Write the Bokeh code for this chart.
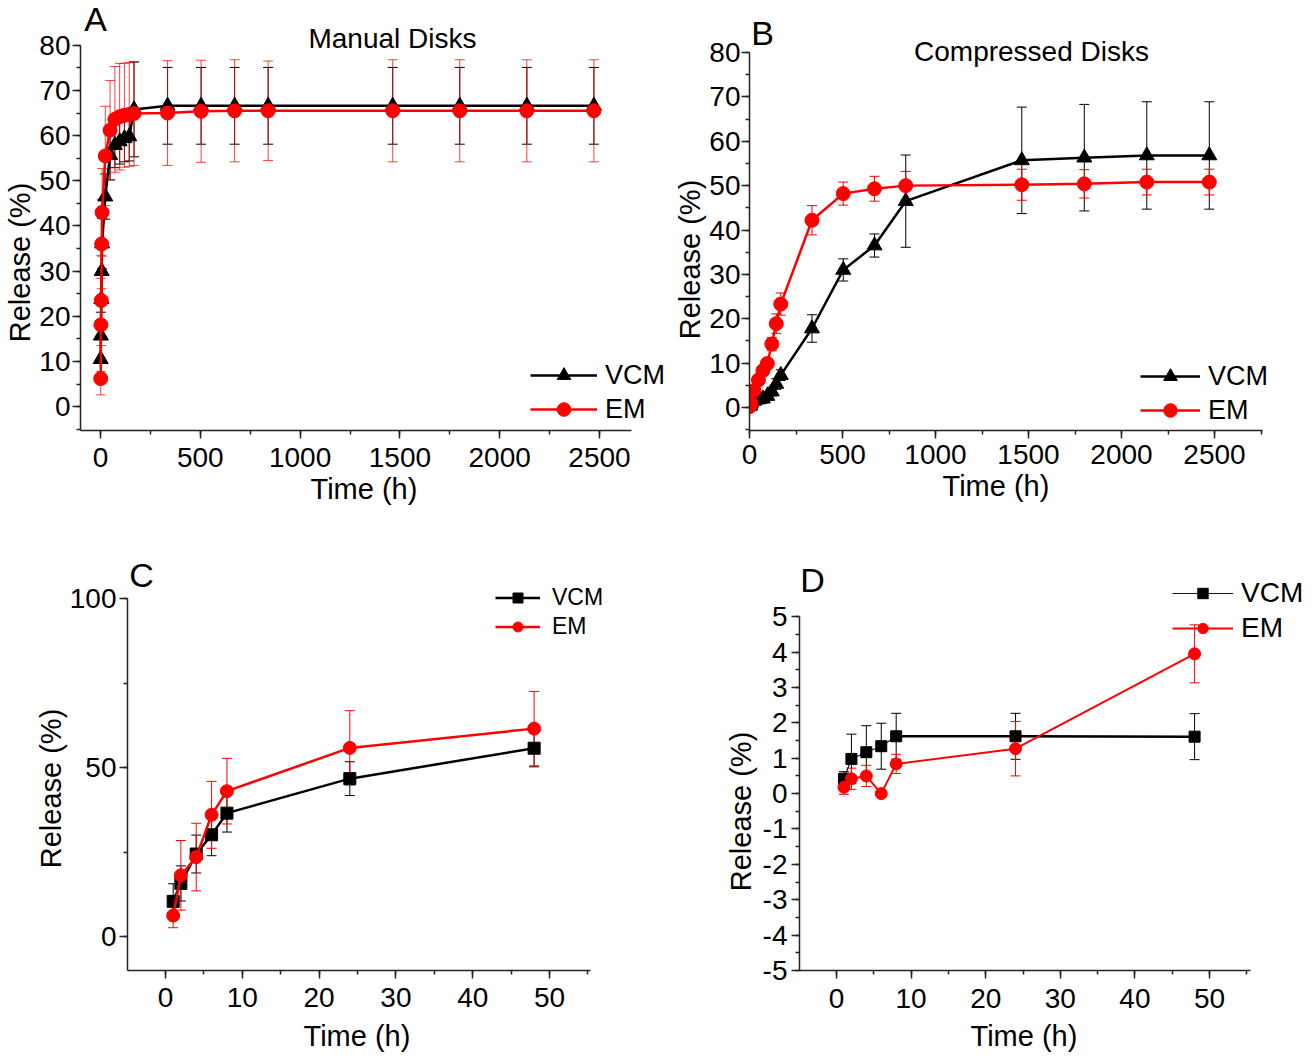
from bokeh.plotting import figure
from bokeh.models import (ColumnDataSource, Whisker, TeeHead, Legend, LegendItem, Label, Title,
                          SingleIntervalTicker, Range1d, NumeralTickFormatter)
from bokeh.layouts import row, column
from bokeh.embed import file_html
from bokeh.resources import INLINE

FONT = "Liberation Sans"

# ---------------- data ----------------
t_long = [1, 2, 4, 6, 8, 24, 48, 72, 96, 120, 144, 168, 336, 504, 672, 840, 1464, 1800, 2136, 2472]

# Panel A (manual disks)
a_vcm = [10.5, 15.7, 23.8, 30.0, 36.1, 46.5, 55.7, 57.9, 58.7, 59.4, 59.8, 65.8, 66.6, 66.6, 66.6, 66.6, 66.6, 66.6, 66.6, 66.6]
a_vcm_err = [5.2, 5.2, 5.6, 6.2, 5.6, 5.0, 5.5, 5.0, 5.0, 5.2, 5.4, 10.5, 8.5, 8.5, 8.5, 8.5, 8.5, 8.5, 8.5, 8.5]
a_em = [6.2, 18.1, 23.5, 36.0, 43.0, 55.5, 61.2, 63.6, 64.2, 64.5, 64.7, 64.9, 65.0, 65.4, 65.5, 65.5, 65.5, 65.5, 65.5, 65.5]
a_em_err = [3.6, 10.3, 10.0, 9.9, 9.7, 11.0, 11.0, 11.7, 11.8, 11.5, 11.5, 11.5, 11.6, 11.3, 11.3, 11.0, 11.3, 11.3, 11.3, 11.3]

# Panel B (compressed disks)
b_vcm = [0.3, 0.5, 0.8, 1.0, 1.2, 1.5, 1.8, 2.0, 2.6, 3.6, 5.3, 7.3, 17.8, 31.0, 36.5, 46.5, 55.7, 56.3, 56.8, 56.8]
b_vcm_err = [0.5, 0.5, 0.5, 0.5, 0.5, 1.0, 1.0, 1.0, 1.0, 1.0, 1.2, 1.2, 3.1, 2.5, 2.6, 10.4, 12.0, 12.0, 12.1, 12.1]
b_em = [0.2, 0.4, 0.6, 0.8, 1.0, 3.8, 6.2, 8.3, 9.9, 14.3, 18.9, 23.3, 42.2, 48.2, 49.3, 50.0, 50.2, 50.4, 50.8, 50.8]
b_em_err = [0.5, 0.5, 0.5, 0.5, 0.5, 1.0, 1.0, 1.0, 1.0, 1.5, 2.2, 2.5, 3.3, 2.6, 2.8, 3.2, 3.5, 3.2, 2.9, 2.9]

# Panels C and D
t_short = [1, 2, 4, 6, 8, 24, 48]
c_vcm = [10.4, 15.7, 24.4, 30.1, 36.5, 46.7, 55.7]
c_vcm_err = [5.2, 5.2, 5.6, 6.2, 5.6, 5.0, 5.5]
c_em = [6.2, 18.1, 23.5, 36.0, 43.0, 55.8, 61.5]
c_em_err = [3.6, 10.3, 10.0, 9.9, 9.7, 11.0, 11.0]

d_vcm = [0.42, 0.98, 1.17, 1.34, 1.62, 1.62, 1.61]
d_vcm_err = [0.2, 0.7, 0.75, 0.65, 0.65, 0.65, 0.65]
d_em = [0.18, 0.42, 0.50, 0.0, 0.84, 1.27, 3.95]
d_em_err = [0.2, 0.3, 0.3, 0.0, 0.27, 0.77, 0.82]

series_names = ["VCM", "EM"]
x_title = "Time (h)"
y_title = "Release (%)"
RED = "#ff0000"
BLACK = "#000000"

# approximate Arial/Liberation Sans advance widths (em) used to centre axis titles
_W = {"T": .611, "i": .222, "m": .833, "e": .556, " ": .278, "(": .333, "h": .556, ")": .333,
      "R": .722, "l": .222, "a": .556, "s": .5, "%": .889}


def text_w(s, px):
    return sum(_W.get(c, .556) for c in s) * px


def make_fig(ox, oy, W, H, XL, YB, xcal, ycal, xaxis_end, yaxis_top, xint, yint,
             xstd=5, ystd=2, xt=(364, 8), yt=(264, 2)):
    x0, px0, x1, px1 = xcal
    y0, py0, y1, py1 = ycal
    xs = (px1 - px0) / (x1 - x0)
    ys = (py0 - py1) / (y1 - y0)
    xstart = x0 + (XL - px0) / xs
    xend = x0 + (ox + W - px0) / xs
    ystart = y0 - (YB - py0) / ys
    yend = y0 + (py0 - oy) / ys
    p = figure(width=W, height=H, x_range=Range1d(xstart, xend), y_range=Range1d(ystart, yend),
               output_backend="svg", toolbar_location=None,
               min_border_left=XL - ox, min_border_right=0,
               min_border_top=0, min_border_bottom=oy + H - YB)
    p.outline_line_color = None
    p.xgrid.visible = False
    p.ygrid.visible = False
    p.xaxis[0].ticker = SingleIntervalTicker(interval=xint, num_minor_ticks=2)
    p.yaxis[0].ticker = SingleIntervalTicker(interval=yint, num_minor_ticks=2)
    p.xaxis[0].bounds = (xstart, xaxis_end)
    p.yaxis[0].bounds = (ystart, yaxis_top)
    for ax in (p.xaxis[0], p.yaxis[0]):
        ax.axis_line_width = 1.5
        ax.axis_line_color = "#222222"
        ax.major_tick_out = 8
        ax.major_tick_in = 0
        ax.minor_tick_out = 4
        ax.minor_tick_in = 0
        ax.major_tick_line_width = 1.5
        ax.minor_tick_line_width = 1.5
        ax.major_tick_line_color = "#222222"
        ax.minor_tick_line_color = "#222222"
        ax.major_label_text_font = FONT
        ax.major_label_text_font_size = "28px"
        ax.major_label_text_color = "black"
        ax.formatter = NumeralTickFormatter(format="0")
    p.xaxis[0].major_label_standoff = xstd
    p.yaxis[0].major_label_standoff = ystd
    # axis titles as panel titles so they can be placed like the original
    xw = text_w(x_title, 29)
    p.add_layout(Title(text=x_title, align="left", offset=xt[0] - xw / 2 - XL, standoff=xt[1],
                       text_font=FONT, text_font_size="29px", text_font_style="normal",
                       text_color="black"), "below")
    yw = text_w(y_title, 29)
    p.add_layout(Title(text=y_title, align="left", offset=YB - (yt[0] + yw / 2), standoff=yt[1],
                       text_font=FONT, text_font_size="29px", text_font_style="normal",
                       text_color="black"), "left")
    return p, (XL, YB)


def add_series(p, t, y, err, color, marker, size, lw=2.5, whisk_alpha=1.0):
    src = ColumnDataSource(dict(t=t, y=y, lo=[a - b for a, b in zip(y, err)], hi=[a + b for a, b in zip(y, err)]))
    wh = Whisker(source=src, base="t", upper="hi", lower="lo", dimension="height",
                 line_color=color, line_width=1, line_alpha=whisk_alpha,
                 upper_head=TeeHead(size=10, line_color=color, line_width=1, line_alpha=whisk_alpha),
                 lower_head=TeeHead(size=10, line_color=color, line_width=1, line_alpha=whisk_alpha))
    p.add_layout(wh)
    ln = p.line("t", "y", source=src, line_color=color, line_width=lw)
    sc = p.scatter("t", "y", source=src, marker=marker, size=size, fill_color=color, line_color=color)
    return ln, sc


def add_legend(p, origin, items, left_px, bottom_px, font_px, glyph_w, glyph_h, label_h, standoff=8):
    XL, YB = origin
    leg = Legend(items=[LegendItem(label=n, renderers=r) for n, r in items],
                 location=(left_px - XL, YB - bottom_px), orientation="vertical")
    leg.label_text_font = FONT
    leg.label_text_font_size = f"{font_px}px"
    leg.label_text_color = "black"
    leg.glyph_width = glyph_w
    leg.glyph_height = glyph_h
    leg.label_height = label_h
    leg.label_standoff = standoff
    leg.spacing = 0
    leg.padding = 0
    leg.margin = 0
    leg.background_fill_alpha = 0
    leg.border_line_alpha = 0
    p.add_layout(leg)


def add_text(p, origin, text, cx, cy, size_px):
    XL, YB = origin
    p.add_layout(Label(x=cx - XL, y=YB - cy, x_units="screen", y_units="screen", text=text,
                       text_font=FONT, text_font_size=f"{size_px}px", text_color="black",
                       text_align="center", text_baseline="middle"))


# ---------------- Panel A ----------------
pA, oA = make_fig(0, 0, 670, 530, 80, 432, (0, 100, 2500, 599), (0, 408, 80, 45), 2660, 80, 500, 10,
                  xstd=9, ystd=2, xt=(364, 2), yt=(264, 2))
lA1, sA1 = add_series(pA, t_long, a_vcm, a_vcm_err, BLACK, "triangle", 15)
lA2, sA2 = add_series(pA, t_long, a_em, a_em_err, RED, "circle", 14, whisk_alpha=0.75)
add_legend(pA, oA, [(series_names[0], [lA1, sA1]), (series_names[1], [lA2, sA2])], 530, 428, 27, 67, 34, 34)
add_text(pA, oA, "Manual Disks", 392, 40, 28)
add_text(pA, oA, "A", 95, 20, 34)

# ---------------- Panel B ----------------
pB, oB = make_fig(670, 0, 645, 530, 749, 430, (0, 749, 2000, 1121), (0, 407, 80, 52), 2758, 80, 500, 10,
                  xstd=6, ystd=1, xt=(996, 2), yt=(259, 2))
lB1, sB1 = add_series(pB, t_long, b_vcm, b_vcm_err, BLACK, "triangle", 15)
lB2, sB2 = add_series(pB, t_long, b_em, b_em_err, RED, "circle", 14)
add_legend(pB, oB, [(series_names[0], [lB1, sB1]), (series_names[1], [lB2, sB2])], 1140, 427, 27, 60, 34, 34)
add_text(pB, oB, "Compressed Disks", 1031, 51, 28)
add_text(pB, oB, "B", 762, 32, 34)

# ---------------- Panel C ----------------
pC, oC = make_fig(0, 530, 657, 531, 127, 970, (0, 165, 50, 549), (0, 936, 100, 598), 55.3, 100, 10, 50,
                  xstd=9, ystd=3, xt=(357, 16), yt=(788, 0))
lC1, sC1 = add_series(pC, t_short, c_vcm, c_vcm_err, BLACK, "square", 12)
lC2, sC2 = add_series(pC, t_short, c_em, c_em_err, RED, "circle", 13)
add_legend(pC, oC, [(series_names[0], [lC1, sC1]), (series_names[1], [lC2, sC2])], 495, 641, 23, 45, 25, 29,
           standoff=12)
add_text(pC, oC, "C", 141, 574, 34)

# ---------------- Panel D ----------------
pD, oD = make_fig(657, 530, 658, 531, 799, 974, (0, 836, 50, 1209), (-5, 974, 5, 617), 55.5, 5, 10, 1,
                  xstd=10, ystd=4, xt=(1024, 14), yt=(815, 6))
srcDv = ColumnDataSource(dict(t=t_short, y=d_vcm,
                              lo=[a - b for a, b in zip(d_vcm, d_vcm_err)],
                              hi=[a + b for a, b in zip(d_vcm, d_vcm_err)]))
pD.add_layout(Whisker(source=srcDv, base="t", upper="hi", lower="lo", line_color=BLACK, line_width=1,
                      upper_head=TeeHead(size=10, line_color=BLACK, line_width=1),
                      lower_head=TeeHead(size=10, line_color=BLACK, line_width=1)))
lD1 = pD.line("t", "y", source=srcDv, line_color="#101050", line_width=1.2)
pD.line(t_short[4:], d_vcm[4:], line_color=BLACK, line_width=2.5)
sD1 = pD.scatter("t", "y", source=srcDv, marker="square", size=11, fill_color=BLACK, line_color=BLACK)
lD2, sD2 = add_series(pD, t_short, d_em, d_em_err, RED, "circle", 12, lw=2)
add_legend(pD, oD, [(series_names[0], [lD1, sD1]), (series_names[1], [lD2, sD2])], 1172, 649, 28, 61, 26, 35)
add_text(pD, oD, "D", 812, 583, 34)

layout = column(row(pA, pB, spacing=0), row(pC, pD, spacing=0), spacing=0)
open("out.html", "w").write(file_html(layout, INLINE))
